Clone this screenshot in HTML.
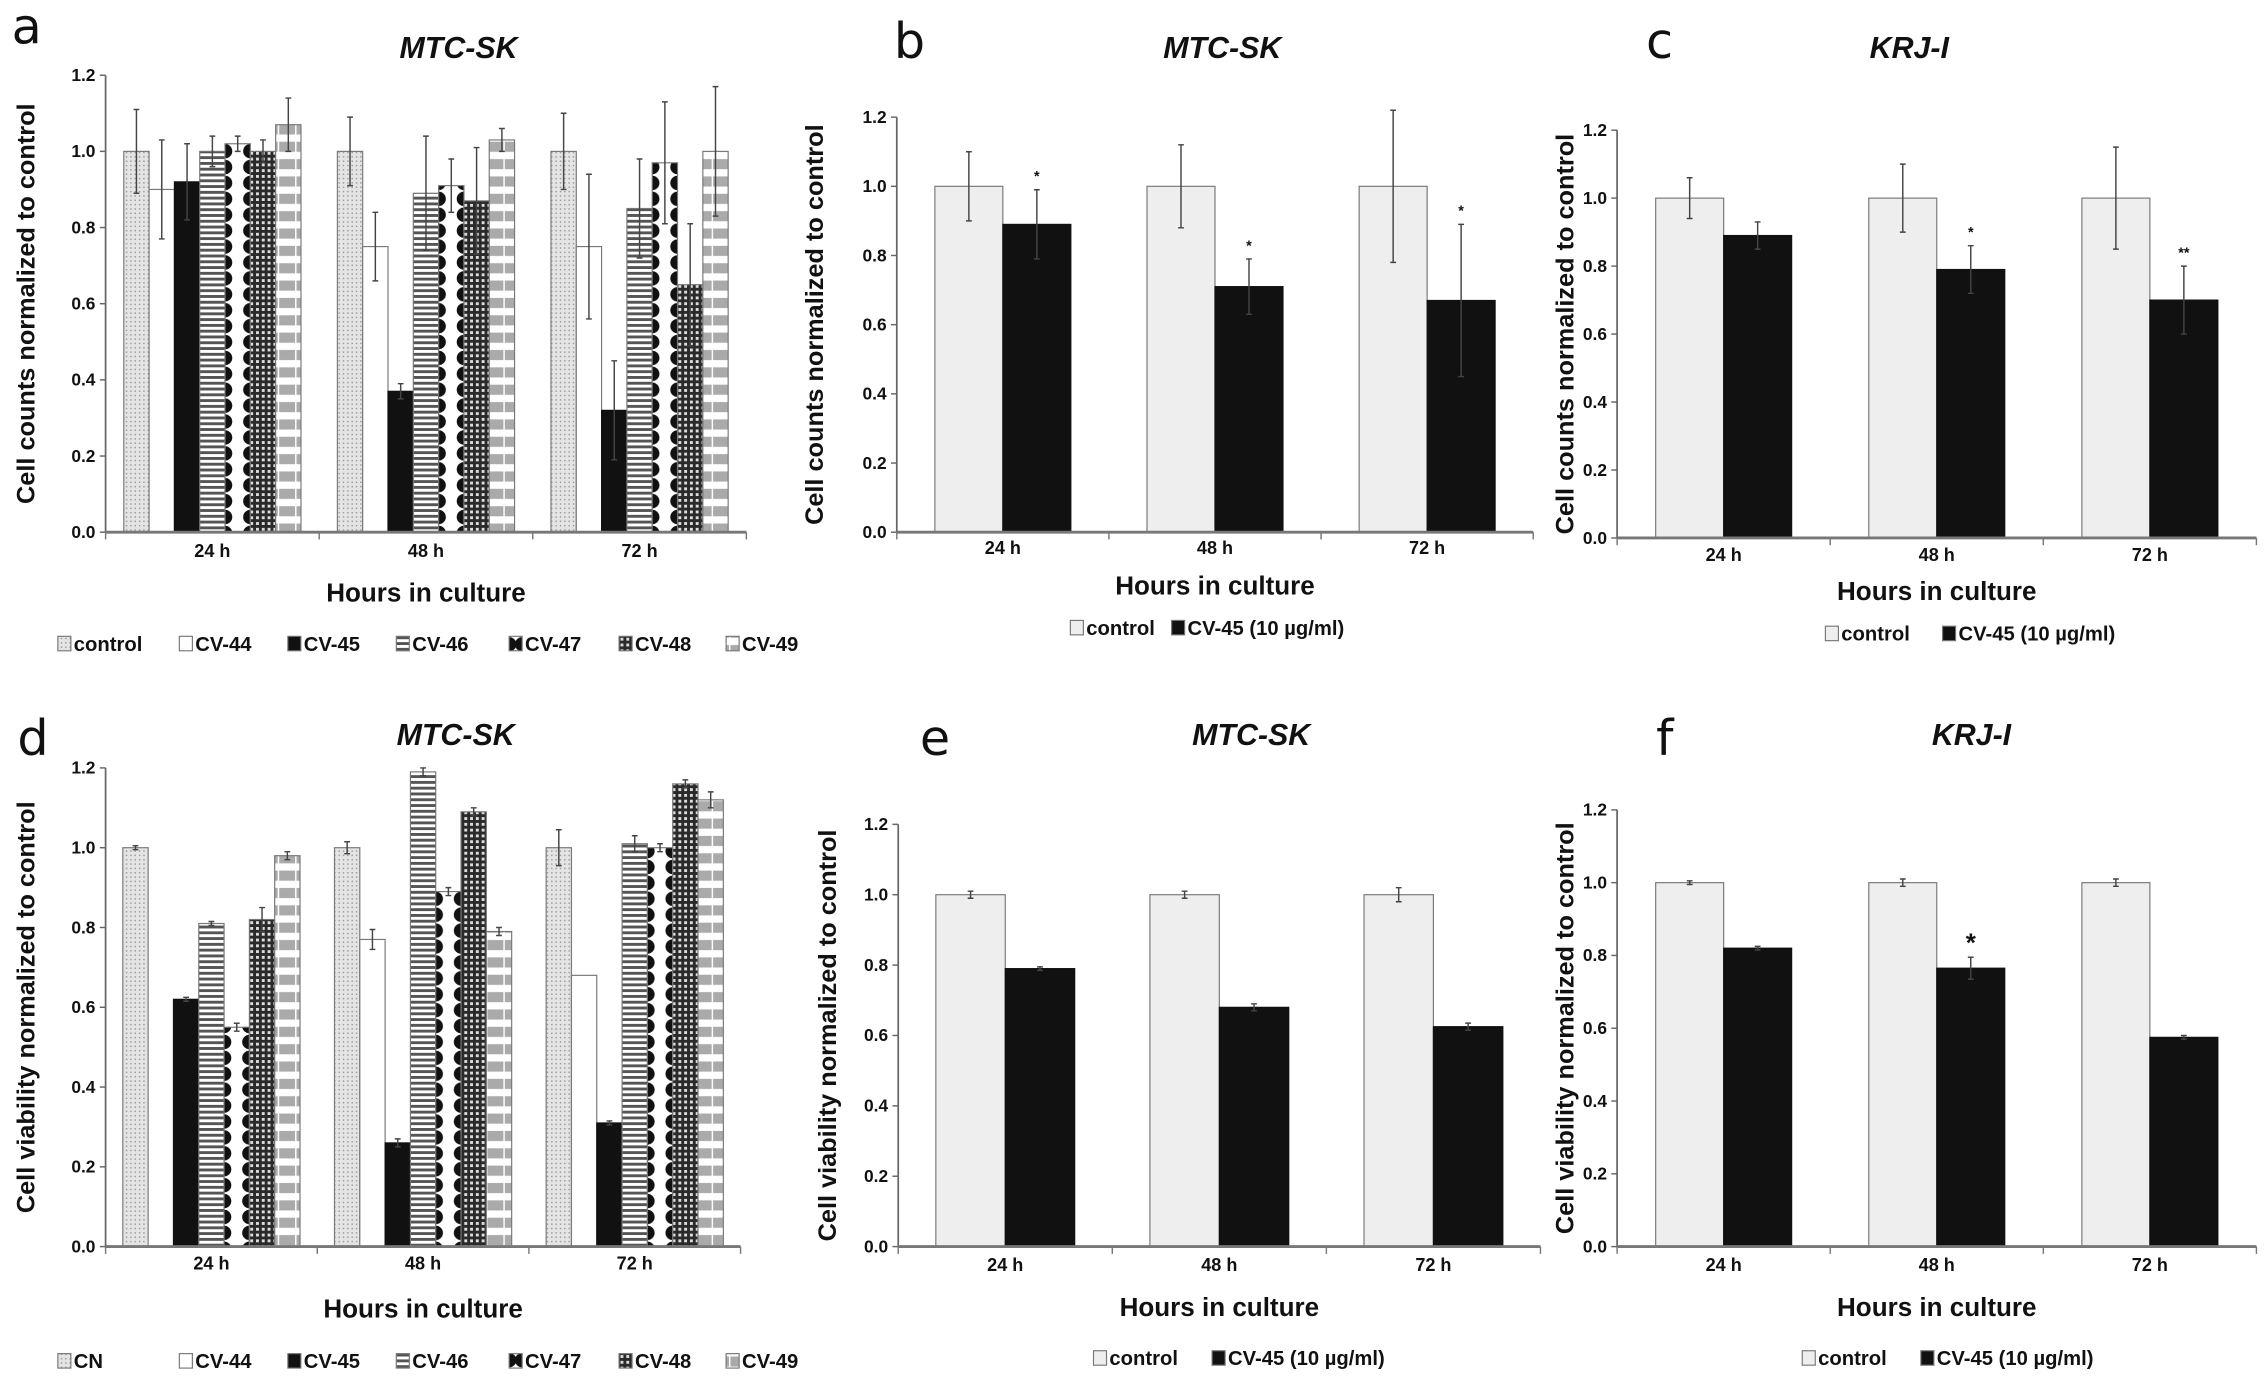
<!DOCTYPE html>
<html><head><meta charset="utf-8"><style>
html,body{margin:0;padding:0;background:#fff;}
svg{display:block;}
text{font-family:"Liberation Sans",sans-serif;font-weight:bold;fill:#111;}
text.letter{font-family:"DejaVu Sans","Liberation Sans",sans-serif;font-weight:normal;}
</style></head><body>
<svg id="fig" width="2268" height="1384" viewBox="0 0 1568 957" preserveAspectRatio="none" xmlns="http://www.w3.org/2000/svg">
<defs>
<pattern id="pCtl" width="3" height="3" patternUnits="userSpaceOnUse"><rect width="3" height="3" fill="#e4e4e4"/><rect width="1" height="1" fill="#9a9a9a"/></pattern>
<pattern id="p46" width="4" height="4" patternUnits="userSpaceOnUse"><rect width="4" height="4" fill="#fff"/><rect width="4" height="2" fill="#555"/></pattern>
<pattern id="p48" width="4" height="4" patternUnits="userSpaceOnUse"><rect width="4" height="4" fill="#2a2a2a"/><rect x="1" y="1" width="2" height="2" fill="#ddd"/></pattern>
<pattern id="p49" width="12" height="12" patternUnits="userSpaceOnUse"><rect width="12" height="12" fill="#fff"/><rect x="1" y="2" width="12" height="7" fill="#aaa"/></pattern>
</defs>
</svg>
<script>
// ---- data ----
const groups = ["24 h","48 h","72 h"];
const yTicks = ["0.0","0.2","0.4","0.6","0.8","1.0","1.2"];
const seriesNamesA = ["control","CV-44","CV-45","CV-46","CV-47","CV-48","CV-49"];
const seriesNamesD = ["CN","CV-44","CV-45","CV-46","CV-47","CV-48","CV-49"];
const aControl=[1.0,1.0,1.0], aControlErr=[0.11,0.09,0.10];
const a44=[0.90,0.75,0.75], a44Err=[0.13,0.09,0.19];
const a45=[0.92,0.37,0.32], a45Err=[0.10,0.02,0.13];
const a46=[1.00,0.89,0.85], a46Err=[0.04,0.15,0.13];
const a47=[1.02,0.91,0.97], a47Err=[0.02,0.07,0.16];
const a48=[1.00,0.87,0.65], a48Err=[0.03,0.14,0.16];
const a49=[1.07,1.03,1.00], a49Err=[0.07,0.03,0.17];
const dCN=[1.0,1.0,1.0], dCNErr=[0.005,0.015,0.045];
const d44=[0,0.77,0.68], d44Err=[0,0.025,0];
const d45=[0.62,0.26,0.31], d45Err=[0.005,0.01,0.005];
const d46=[0.81,1.19,1.01], d46Err=[0.005,0.01,0.02];
const d47=[0.55,0.89,1.00], d47Err=[0.01,0.01,0.01];
const d48=[0.82,1.09,1.16], d48Err=[0.03,0.01,0.01];
const d49=[0.98,0.79,1.12], d49Err=[0.01,0.01,0.02];
const bControl=[1,1,1], bControlErr=[0.10,0.12,0.22];
const b45=[0.89,0.71,0.67], b45Err=[0.10,0.08,0.22];
const bStars=["*","*","*"];
const cControl=[1,1,1], cControlErr=[0.06,0.10,0.15];
const c45=[0.89,0.79,0.70], c45Err=[0.04,0.07,0.10];
const cStars=["","*","**"];
const eControl=[1,1,1], eControlErr=[0.01,0.01,0.02];
const e45=[0.79,0.68,0.625], e45Err=[0.005,0.01,0.01];
const eStars=["","",""];
const fControl=[1,1,1], fControlErr=[0.005,0.01,0.01];
const f45=[0.82,0.765,0.575], f45Err=[0.005,0.03,0.005];
const fStars=["","*",""];

const NS="http://www.w3.org/2000/svg";
const svg=document.getElementById('fig');
let pid=0;
function el(tag,attrs,parent){const e=document.createElementNS(NS,tag);for(const k in attrs)e.setAttribute(k,attrs[k]);(parent||svg).appendChild(e);return e;}
function txt(x,y,s,size,parent,extra){const t=el('text',Object.assign({x:x,y:y,'font-size':size,'text-anchor':'middle'},extra||{}),parent);t.textContent=s;return t;}
function fillFor(kind,x,w,parent){
  if(kind==='ctl')return 'url(#pCtl)';
  if(kind==='white')return '#fff';
  if(kind==='black')return '#111';
  if(kind==='lgray')return '#eee';
  if(kind==='s46')return 'url(#p46)';
  if(kind==='s48')return 'url(#p48)';
  if(kind==='s49')return 'url(#p49)';
  if(kind==='s47'){
    const id='p47_'+(pid++);
    const p=el('pattern',{id:id,x:x,y:0,width:w,height:11,patternUnits:'userSpaceOnUse'},svg.querySelector('defs'));
    el('rect',{width:w,height:11,fill:'#fff'},p);
    el('circle',{cx:0,cy:5.5,r:5,fill:'#111'},p);
    el('circle',{cx:w,cy:5.5,r:5,fill:'#111'},p);
    return 'url(#'+id+')';
  }
  return '#ccc';
}
function panel(cfg){
  const g=el('g',{});
  
  
  const y=v=>cfg.y0-(v/1.2)*(cfg.y0-cfg.ytop);
  const catW=(cfg.xend-cfg.x0)/groups.length;
  const L=txt(cfg.letterX,cfg.letterY,cfg.letter,34,g,{'text-anchor':'start','class':'letter'});
  
  const T=txt(cfg.titleX,cfg.titleY,cfg.title,21,g,{'font-style':'italic'});
  
  const ya=el('line',{x1:cfg.x0,y1:cfg.ytop,x2:cfg.x0,y2:cfg.y0,stroke:'#666','stroke-width':1.2},g);
  
  yTicks.forEach(t=>{const v=parseFloat(t);const yy=y(v);
    el('line',{x1:cfg.x0-4,y1:yy,x2:cfg.x0,y2:yy,stroke:'#666'},g);
    const tl=txt(cfg.x0-7,yy+4,t,12,g,{'text-anchor':'end'});
    });
  const yt=txt(0,0,cfg.ytitle,17.5,g,{transform:`translate(${cfg.ytitleX},${(cfg.y0+cfg.ytop)/2}) rotate(-90)`});
  
  const n=cfg.series.length;
  groups.forEach((gname,gi)=>{
    const cx=cfg.x0+catW*(gi+0.5);
    const start=cx-cfg.barW*n/2;
    cfg.series.forEach((s,si)=>{
      const v=s.vals[gi],e=s.errs[gi];
      const bx=start+si*cfg.barW;
      if(v>0){
        const r=el('rect',{x:bx,y:y(v),width:cfg.barW,height:cfg.y0-y(v),fill:fillFor(s.kind,bx,cfg.barW),stroke:s.kind==='black'?'#111':'#777','stroke-width':0.8},g);
        
        
      }
      if(e>0){
        const ex=bx+cfg.barW/2;
        const eb=el('path',{d:`M${ex},${y(v-e)}V${y(v+e)}M${ex-2},${y(v+e)}H${ex+2}M${ex-2},${y(v-e)}H${ex+2}`,stroke:'#444','stroke-width':1,fill:'none'},g);
        
      }
      if(cfg.stars && si===1 && cfg.stars[gi]){
        const st=txt(bx+cfg.barW/2,y(v+e)-(cfg.bigStar?4:6),cfg.stars[gi],cfg.bigStar?18:10,g);
        
      }
    });
    const xl=txt(cx,cfg.y0+cfg.tickDy,gname,12.5,g);
    
  });
  const xa=el('line',{x1:cfg.x0,y1:cfg.y0,x2:cfg.xend,y2:cfg.y0,stroke:'#777','stroke-width':2},g);
  
  for(let i=0;i<=groups.length;i++){const xx=cfg.x0+catW*i;el('line',{x1:xx,y1:cfg.y0,x2:xx,y2:cfg.y0+5,stroke:'#777'},g);}
  const xt=txt((cfg.x0+cfg.xend)/2,cfg.xtitleY,'Hours in culture',18,g);
  
  const lg=el('g',{},g);
  
  cfg.series.forEach((s,si)=>{
    const lx=cfg.legX[si];
    const le=el('g',{},lg);
    
    el('rect',{x:lx,y:cfg.legY-10,width:9,height:10,fill:fillFor(s.kind,lx,9),stroke:'#777','stroke-width':0.8},le);
    txt(lx+11,cfg.legY,s.label,14,le,{'text-anchor':'start'});
  });
}
const kinds=['ctl','white','black','s46','s47','s48','s49'];
const aVals=[aControl,a44,a45,a46,a47,a48,a49], aErrs=[aControlErr,a44Err,a45Err,a46Err,a47Err,a48Err,a49Err];
const dVals=[dCN,d44,d45,d46,d47,d48,d49], dErrs=[dCNErr,d44Err,d45Err,d46Err,d47Err,d48Err,d49Err];
const legX7=[40,124,199,274,352,428,502];
panel({name:'panel-a',letter:'a',letterX:8,letterY:30,title:'MTC-SK',titleX:317,titleY:40,x0:73,xend:516,y0:368,ytop:52,barW:17.5,tickDy:17,xtitleY:416,
  ytitle:'Cell counts normalized to control',ytitleX:24,legY:450,legX:legX7,
  series:seriesNamesA.map((l,i)=>({label:l,kind:kinds[i],vals:aVals[i],errs:aErrs[i]}))});
panel({name:'panel-d',letter:'d',letterX:12,letterY:522,title:'MTC-SK',titleX:315,titleY:515,x0:73,xend:512,y0:862,ytop:531,barW:17.5,tickDy:16,xtitleY:911,
  ytitle:'Cell viability normalized to control',ytitleX:24,legY:946,legX:[40,124,199,274,352,428,502],
  series:seriesNamesD.map((l,i)=>({label:l,kind:kinds[i],vals:dVals[i],errs:dErrs[i]}))});
const two=(c,ce,t,te)=>[{label:'control',kind:'lgray',vals:c,errs:ce},{label:'CV-45 (10 µg/ml)',kind:'black',vals:t,errs:te}];
panel({name:'panel-b',letter:'b',letterX:618,letterY:40,title:'MTC-SK',titleX:845,titleY:40,x0:620,xend:1060,y0:368,ytop:81,barW:47,tickDy:15,xtitleY:411,
  ytitle:'Cell counts normalized to control',ytitleX:569,legY:439,legX:[740,810],stars:bStars,
  series:two(bControl,bControlErr,b45,b45Err)});
panel({name:'panel-c',letter:'c',letterX:1138,letterY:40,title:'KRJ-I',titleX:1320,titleY:40,x0:1118,xend:1560,y0:372,ytop:90,barW:47,tickDy:16,xtitleY:415,
  ytitle:'Cell counts normalized to control',ytitleX:1088,legY:443,legX:[1262,1343],stars:cStars,
  series:two(cControl,cControlErr,c45,c45Err)});
panel({name:'panel-e',letter:'e',letterX:636,letterY:522,title:'MTC-SK',titleX:865,titleY:515,x0:621,xend:1065,y0:862,ytop:570,barW:48,tickDy:17,xtitleY:910,
  ytitle:'Cell viability normalized to control',ytitleX:578,legY:944,legX:[756,838],stars:eStars,
  series:two(eControl,eControlErr,e45,e45Err)});
panel({name:'panel-f',letter:'f',letterX:1145,letterY:522,title:'KRJ-I',titleX:1363,titleY:515,x0:1118,xend:1560,y0:862,ytop:560,barW:47,tickDy:17,xtitleY:910,
  ytitle:'Cell viability normalized to control',ytitleX:1088,legY:944,legX:[1246,1328],stars:fStars,bigStar:true,
  series:two(fControl,fControlErr,f45,f45Err)});
</script>
</body></html>
